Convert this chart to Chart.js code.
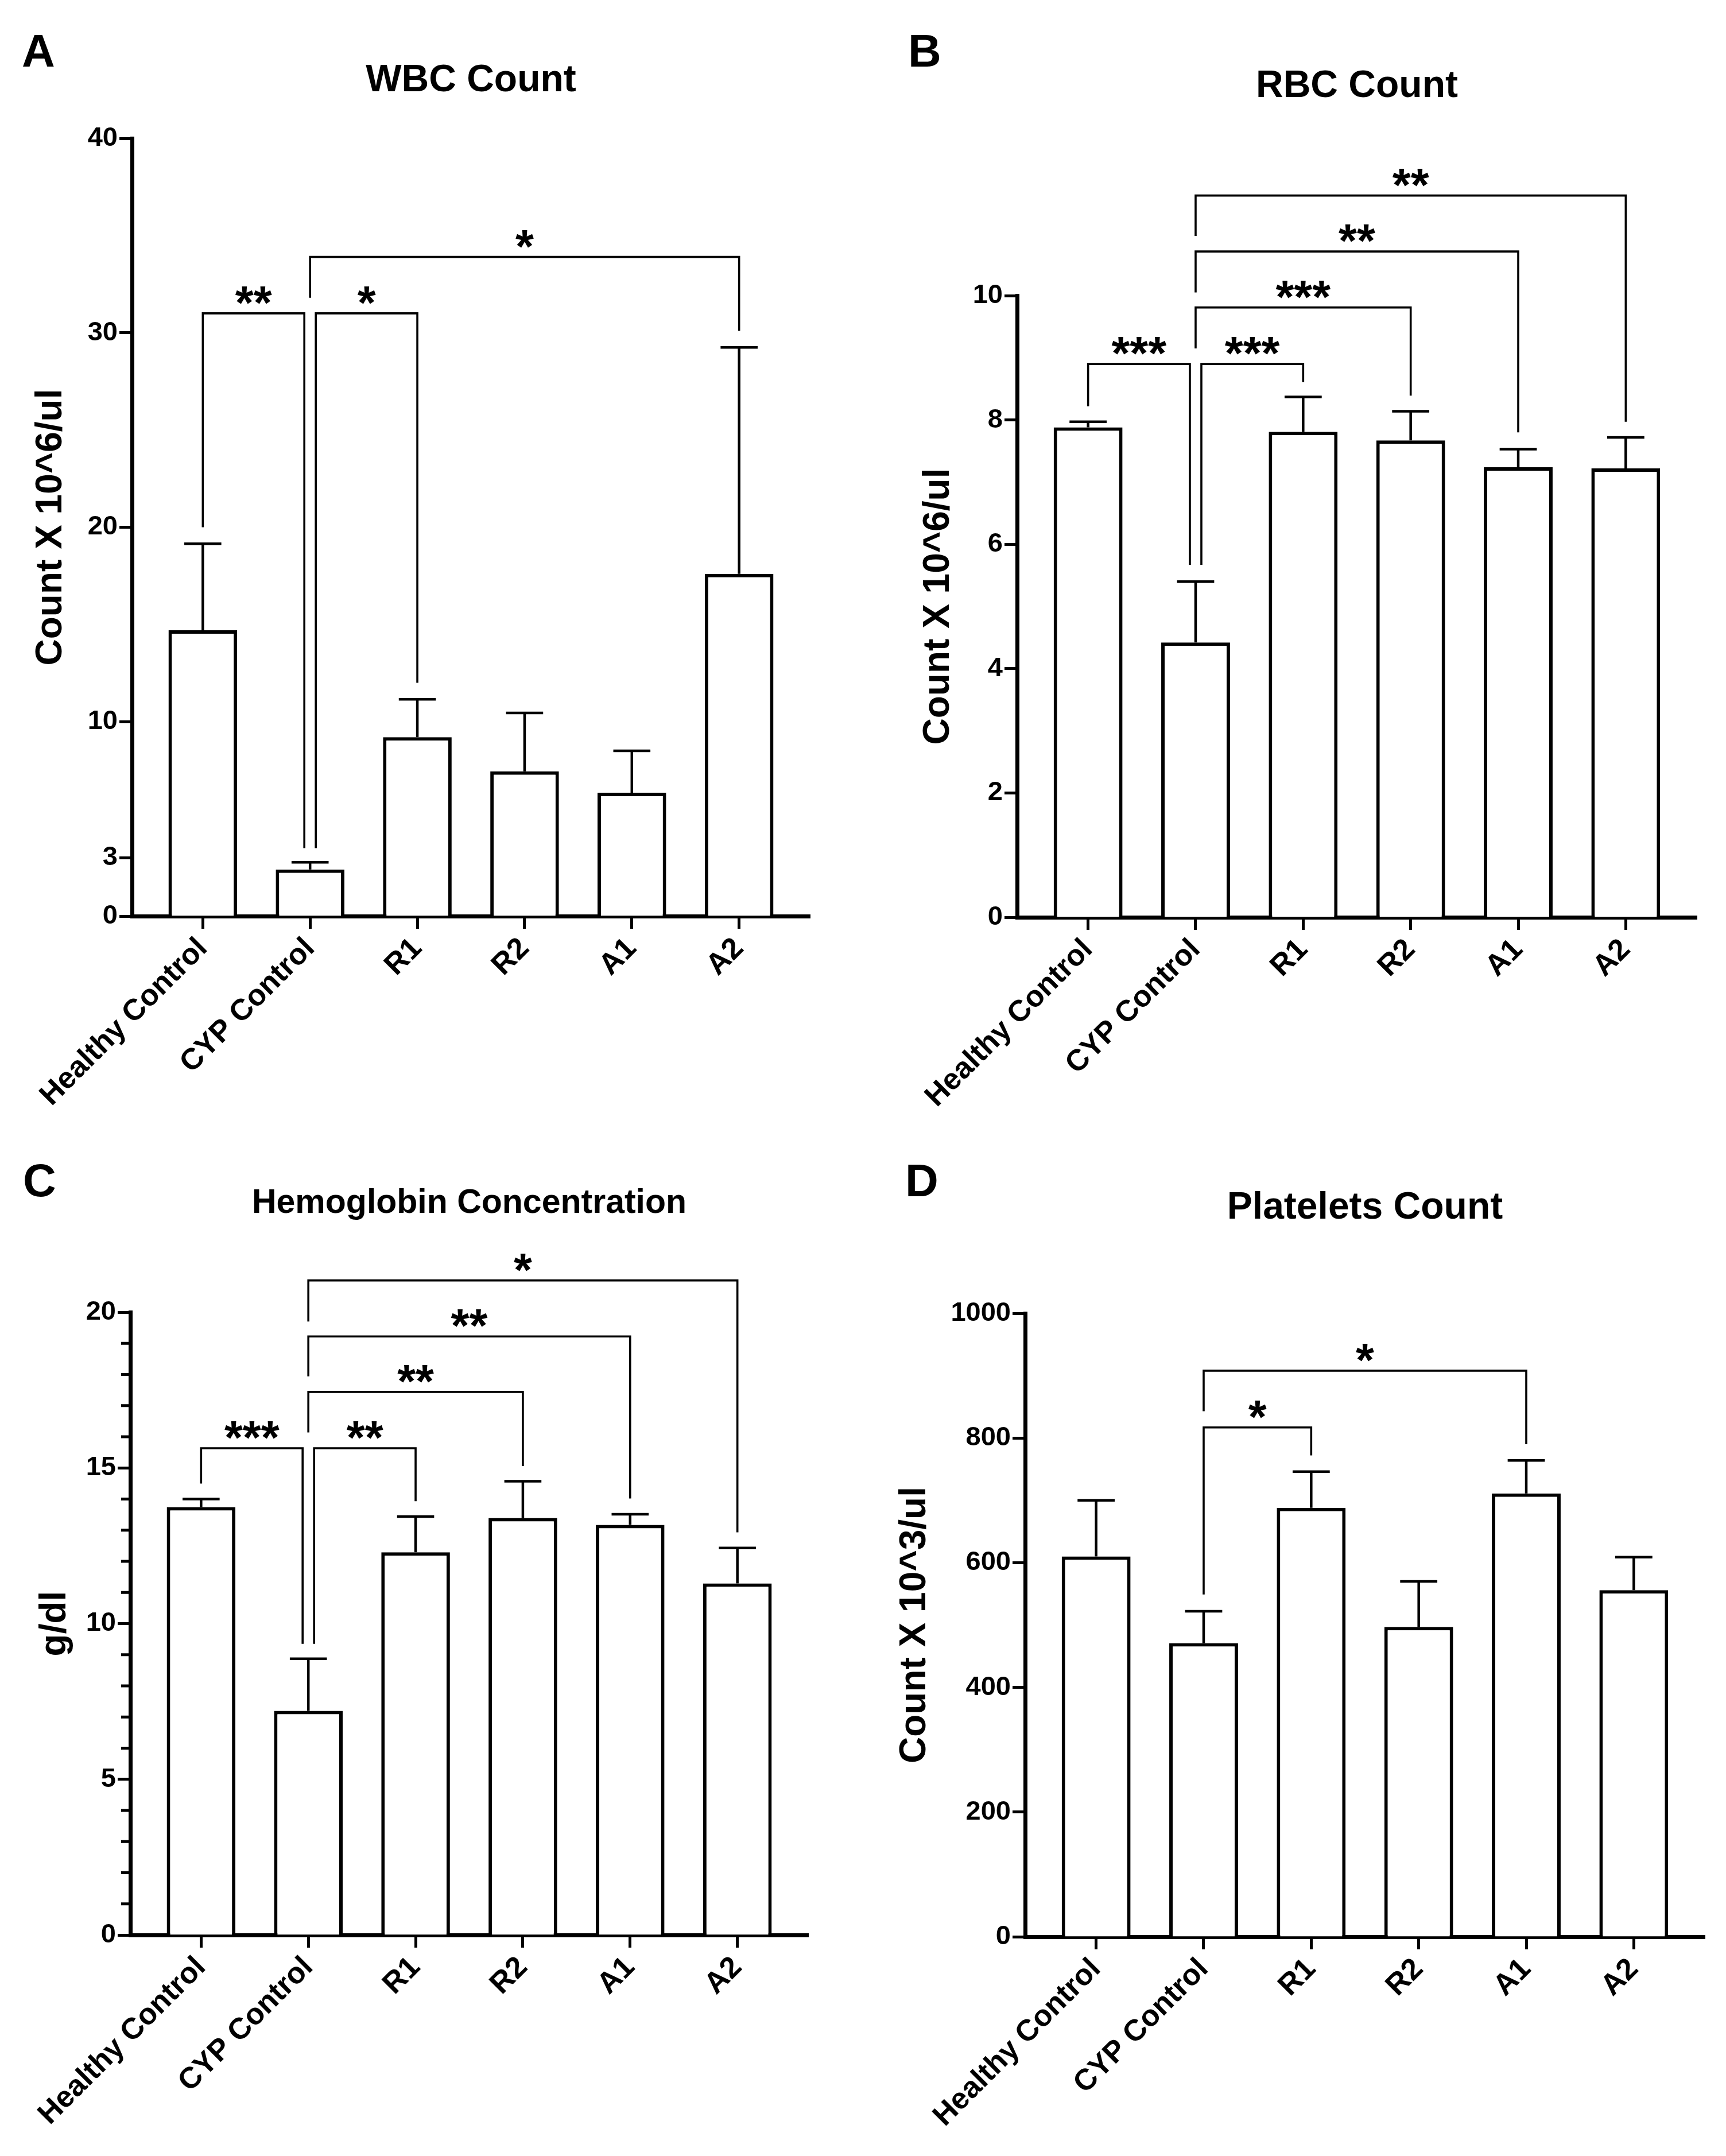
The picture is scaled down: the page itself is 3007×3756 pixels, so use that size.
<!DOCTYPE html>
<html>
<head>
<meta charset="utf-8">
<script src="https://cdn.jsdelivr.net/npm/chart.js@4.4.1/dist/chart.umd.min.js"></script>
<style>
  html, body { margin: 0; padding: 0; background: #fff; }
  #page { position: relative; width: 3007px; height: 3756px; background: #fff; overflow: hidden; }
  canvas { position: absolute; }
</style>
</head>
<body>
<div id="page">
  <canvas id="hgb" width="1503" height="1878" style="left:0px;top:1878px"></canvas>
  <canvas id="plt" width="1504" height="1878" style="left:1503px;top:1878px"></canvas>
  <canvas id="wbc" width="1503" height="2000" style="left:0px;top:0px"></canvas>
  <canvas id="rbc" width="1504" height="2000" style="left:1503px;top:0px"></canvas>
</div>
<script>
const groups = ['Healthy Control', 'CYP Control', 'R1', 'R2', 'A1', 'A2'];

// WBC
const wbcMean = [14.7, 2.4, 9.2, 7.45, 6.35, 17.6];
const wbcErr = [4.45, 0.37, 1.95, 3.0, 2.15, 11.65];
const wbcTicks = [0, 3, 10, 20, 30, 40];
// [from, to, bracket level, left leg end, right leg end, label]
const wbcSig = [
  [0, 1, 31.0, 20.0, 3.5, '**'],
  [1, 2, 31.0, 3.5, 12.0, '*'],
  [1, 5, 33.9, 31.8, 30.1, '*']
];

// RBC
const rbcMean = [7.88, 4.42, 7.81, 7.67, 7.24, 7.22];
const rbcErr = [0.09, 0.98, 0.56, 0.47, 0.29, 0.5];
const rbcTicks = [0, 2, 4, 6, 8, 10];
const rbcSig = [
  [0, 1, 8.9, 8.22, 5.67, '***'],
  [1, 2, 8.9, 5.67, 8.61, '***'],
  [1, 3, 9.81, 9.15, 8.39, '***'],
  [1, 4, 10.71, 10.05, 7.8, '**'],
  [1, 5, 11.61, 10.96, 7.97, '**']
];

// Hemoglobin
const hgbMean = [13.74, 7.2, 12.29, 13.39, 13.17, 11.29];
const hgbErr = [0.26, 1.67, 1.15, 1.18, 0.34, 1.14];
const hgbTicks = [0, 5, 10, 15, 20];
const hgbSig = [
  [0, 1, 15.63, 14.5, 9.35, '***'],
  [1, 2, 15.63, 9.35, 13.93, '**'],
  [1, 3, 17.44, 16.14, 15.06, '**'],
  [1, 4, 19.22, 17.94, 14.02, '**'],
  [1, 5, 21.02, 19.7, 12.93, '*']
];

// Platelets
const pltMean = [610, 471, 688, 497, 711, 556];
const pltErr = [90, 51, 58, 73, 53, 53];
const pltTicks = [0, 200, 400, 600, 800, 1000];
const pltSig = [
  [1, 2, 817, 549, 772, '*'],
  [1, 4, 908, 843, 790, '*']
];

const FONT = '"Liberation Sans", Arial, Helvetica, sans-serif';
Chart.defaults.font.family = FONT;
Chart.defaults.color = '#000';

// error bars, minor ticks, significance brackets, panel letter
const extras = {
  id: 'extras',
  afterDatasetsDraw(chart, args, opts) {
    const ctx = chart.ctx;
    const xs = chart.scales.x, ys = chart.scales.y;
    const bars = chart.getDatasetMeta(0).data;
    ctx.save();
    ctx.strokeStyle = '#000';
    ctx.fillStyle = '#000';

    // upper error bars
    ctx.lineWidth = 4.5;
    opts.means.forEach((m, i) => {
      const px = xs.getPixelForValue(i);
      const y0 = ys.getPixelForValue(m);
      const y1 = ys.getPixelForValue(m + opts.err[i]);
      const half = bars[i].width * 0.27;
      ctx.beginPath();
      ctx.moveTo(px, y0);
      ctx.lineTo(px, y1);
      ctx.moveTo(px - half, y1);
      ctx.lineTo(px + half, y1);
      ctx.stroke();
    });

    // minor ticks (hemoglobin only)
    if (opts.minorStep) {
      ctx.lineWidth = 5;
      const left = chart.chartArea.left;
      for (let v = ys.min; v <= ys.max; v += opts.minorStep) {
        if (opts.ticks.includes(v)) continue;
        const py = ys.getPixelForValue(v);
        ctx.beginPath();
        ctx.moveTo(left - 16, py);
        ctx.lineTo(left, py);
        ctx.stroke();
      }
    }

    // brackets; legs that meet at the same level get pushed apart
    const gap = 10;
    const sig = opts.sig;
    const shared = (b, idx) => sig.some(o => o !== b && o[2] === b[2] && (o[0] === idx || o[1] === idx));
    ctx.lineWidth = 3.6;
    ctx.font = 'bold 82px ' + FONT;
    ctx.textAlign = 'center';
    ctx.textBaseline = 'alphabetic';
    sig.forEach(b => {
      const xl = xs.getPixelForValue(b[0]) + (shared(b, b[0]) ? gap : 0);
      const xr = xs.getPixelForValue(b[1]) - (shared(b, b[1]) ? gap : 0);
      const yb = ys.getPixelForValue(b[2]);
      ctx.beginPath();
      ctx.moveTo(xl, ys.getPixelForValue(b[3]));
      ctx.lineTo(xl, yb);
      ctx.lineTo(xr, yb);
      ctx.lineTo(xr, ys.getPixelForValue(b[4]));
      ctx.stroke();
      ctx.fillText(b[5], (xl + xr) / 2, yb + 9);
    });
    ctx.restore();
  },
  afterDraw(chart, args, opts) {
    const ctx = chart.ctx;
    ctx.save();
    ctx.fillStyle = '#000';
    ctx.font = 'bold 80px ' + FONT;
    ctx.textAlign = 'left';
    ctx.textBaseline = 'alphabetic';
    ctx.fillText(opts.letter, opts.letterX, opts.letterY);
    ctx.restore();
  }
};

function panel(id, o) {
  const canvas = document.getElementById(id);
  const W = canvas.width, H = canvas.height;
  const lh = 1.2;
  const yTitleSize = 64;
  const margin = 0.66;
  const axisBorder = { display: true, color: '#000', width: 7 };

  new Chart(canvas, {
    type: 'bar',
    data: {
      datasets: [{
        data: o.means.map((v, i) => ({ x: i, y: v })),
        backgroundColor: '#fff',
        borderColor: '#000',
        borderWidth: 6,
        borderSkipped: 'start',
        barPercentage: 0.64,
        categoryPercentage: 1
      }]
    },
    options: {
      responsive: false,
      animation: false,
      devicePixelRatio: 1,
      layout: { padding: { left: 0, top: 0, right: W - o.area.right, bottom: 0 } },
      plugins: {
        legend: { display: false },
        tooltip: { enabled: false },
        title: {
          display: true,
          text: o.title,
          fullSize: false,
          color: '#000',
          font: { size: o.titleSize, weight: 'bold', lineHeight: lh },
          padding: {
            top: o.titleY - o.titleSize * lh / 2,
            bottom: o.area.top - o.titleY - o.titleSize * lh / 2
          }
        },
        extras: {
          means: o.means, err: o.err, sig: o.sig, ticks: o.ticks,
          minorStep: o.minorStep || 0,
          letter: o.letter, letterX: o.letterX, letterY: o.letterY
        }
      },
      scales: {
        x: {
          type: 'linear',
          offset: false,
          min: -margin,
          max: groups.length - 1 + margin,
          afterBuildTicks: s => { s.ticks = groups.map((g, i) => ({ value: i })); },
          afterFit: s => { s.height = H - o.area.bottom; },
          ticks: {
            callback: v => groups[v],
            autoSkip: false,
            minRotation: 45,
            maxRotation: 45,
            padding: 4,
            color: '#000',
            font: { size: 52, weight: 'bold' }
          },
          grid: { offset: false, drawOnChartArea: false, drawTicks: true, tickLength: 22, tickWidth: 5, tickColor: '#000' },
          border: axisBorder
        },
        y: {
          min: 0,
          max: o.ticks[o.ticks.length - 1],
          afterBuildTicks: s => { s.ticks = o.ticks.map(v => ({ value: v })); },
          afterFit: s => { s.width = o.area.left; },
          ticks: {
            callback: v => String(v),
            padding: 3,
            color: '#000',
            font: { size: 47, weight: 'bold' }
          },
          grid: { drawOnChartArea: false, drawTicks: true, tickLength: 22, tickWidth: 5, tickColor: '#000' },
          border: axisBorder,
          title: {
            display: true,
            text: o.yTitle,
            color: '#000',
            font: { size: yTitleSize, weight: 'bold', lineHeight: lh },
            padding: { top: o.yTitleX - yTitleSize * lh / 2, bottom: 0 }
          }
        }
      }
    },
    plugins: [extras]
  });
}

panel('wbc', {
  means: wbcMean, err: wbcErr, ticks: wbcTicks, sig: wbcSig,
  title: 'WBC Count', titleSize: 66, titleY: 141,
  yTitle: 'Count X 10^6/ul', yTitleX: 89,
  letter: 'A', letterX: 38, letterY: 116,
  area: { left: 230, right: 1411, top: 241, bottom: 1596 }
});

panel('rbc', {
  means: rbcMean, err: rbcErr, ticks: rbcTicks, sig: rbcSig,
  title: 'RBC Count', titleSize: 66, titleY: 151,
  yTitle: 'Count X 10^6/ul', yTitleX: 132,
  letter: 'B', letterX: 79, letterY: 116,
  area: { left: 269, right: 1453, top: 515, bottom: 1598 }
});

panel('hgb', {
  means: hgbMean, err: hgbErr, ticks: hgbTicks, sig: hgbSig, minorStep: 1,
  title: 'Hemoglobin Concentration', titleSize: 59, titleY: 219,
  yTitle: 'g/dl', yTitleX: 96,
  letter: 'C', letterX: 40, letterY: 206,
  area: { left: 227, right: 1408, top: 408, bottom: 1493 }
});

panel('plt', {
  means: pltMean, err: pltErr, ticks: pltTicks, sig: pltSig,
  title: 'Platelets Count', titleSize: 66, titleY: 227,
  yTitle: 'Count X 10^3/ul', yTitleX: 91,
  letter: 'D', letterX: 74, letterY: 206,
  area: { left: 283, right: 1467, top: 410, bottom: 1496 }
});
</script>
</body>
</html>
